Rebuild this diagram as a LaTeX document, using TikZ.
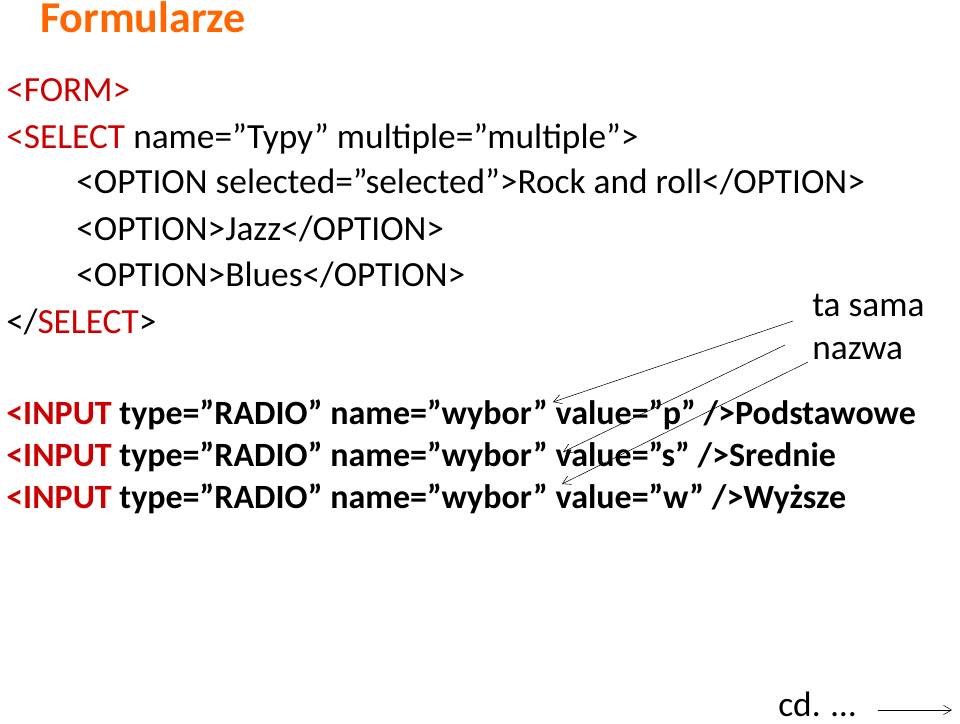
\documentclass[tikz,border=0pt]{standalone}
\usepackage{fontspec}
\defaultfontfeatures{}
\setmainfont{Carlito}
\usetikzlibrary{positioning,arrows.meta}
\definecolor{titleorange}{RGB}{255,102,0}
\definecolor{tagred}{RGB}{204,0,0}
\tikzset{line/.style={anchor=base west, inner sep=0pt, font=\fontsize{26.5}{30}\selectfont},
  big/.style={line, font=\fontsize{25.5}{30}\selectfont\bfseries},
  pointer/.style={thin,-{Straight Barb[length=6pt,width=7pt]}}}
\begin{document}
\begin{tikzpicture}[x=0.75pt,y=-0.75pt]
  \useasboundingbox (0,0) rectangle (960,724);
  \node[line, font=\fontsize{33}{36}\selectfont\bfseries, text=titleorange] (title) at (40,33) {Formularze};
  \node[line] (form) at (6,101) {\textcolor{tagred}{<FORM>}};
  \node[line] (select) at (6,148) {\textcolor{tagred}{<SELECT} name="Typy" multiple="multiple">};
  \node[line] (opt1) at (76,193) {<OPTION selected="selected">Rock and roll</OPTION>};
  \node[line] (opt2) at (76,240) {<OPTION>Jazz</OPTION>};
  \node[line] (opt3) at (76,286) {<OPTION>Blues</OPTION>};
  \node[line] (endsel) at (6,333) {</\textcolor{tagred}{SELECT}>};
  \node[line] (ta) at (812,316) {ta sama};
  \node[line] (nazwa) at (812,359) {nazwa};
  \node[big] (in1) at (6,424) {\textcolor{tagred}{<INPUT} type="RADIO" name="wybor" value="p" />Podstawowe};
  \node[big] (in2) at (6,466) {\textcolor{tagred}{<INPUT} type="RADIO" name="wybor" value="s" />Srednie};
  \node[big] (in3) at (6,508) {\textcolor{tagred}{<INPUT} type="RADIO" name="wybor" value="w" />Wyższe};
  \node[line] (cd) at (778,716) {cd. …};
  \coordinate (a1) at (793,321);
  \coordinate (a2) at (785,345);
  \coordinate (a3) at (808,362);
  \coordinate (t1) at (553,402);
  \coordinate (t2) at (563,452);
  \coordinate (t3) at (562,484);
  \coordinate (c1) at (878,710);
  \coordinate (c2) at (952,710);
  \draw[pointer] (a1) -- (t1);
  \draw[pointer] (a2) -- (t2);
  \draw[pointer] (a3) -- (t3);
  \draw[pointer] (c1) -- (c2);
\end{tikzpicture}
\end{document}
